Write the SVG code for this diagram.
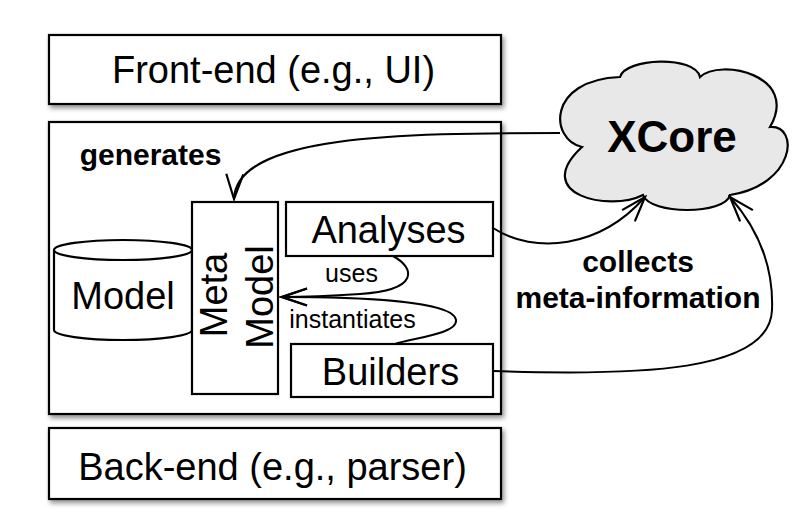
<svg xmlns="http://www.w3.org/2000/svg" width="798" height="512" viewBox="0 0 798 512">
<defs>
<filter id="sh" x="-5%" y="-10%" width="115%" height="130%">
<feDropShadow dx="2" dy="3" stdDeviation="2.5" flood-color="#000" flood-opacity="0.45"/>
</filter>
<marker id="v" markerUnits="userSpaceOnUse" markerWidth="30" markerHeight="22" viewBox="-27 -11 30 22" refX="0" refY="0" orient="auto">
<path d="M-25,-8.5 L0,0 L-25,8.5" fill="none" stroke="#000" stroke-width="2.2"/>
</marker>
</defs>
<style>
.box{fill:#fff;stroke:#000;stroke-width:2.2}
.big{font-family:"Liberation Sans",Arial,sans-serif;font-size:38px;fill:#000;text-anchor:middle}
.lbl{font-family:"Liberation Sans",Arial,sans-serif;font-size:25px;fill:#000;text-anchor:middle}
.bold{font-family:"Liberation Sans",Arial,sans-serif;font-weight:bold;font-size:30px;fill:#000;text-anchor:middle}
.con{fill:none;stroke:#000;stroke-width:2}
</style>
<rect width="798" height="512" fill="#fff"/>

<g id="frontend">
<rect class="box" x="49" y="35" width="452" height="69" filter="url(#sh)"/>
<text class="big" x="273.5" y="83">Front-end (e.g., UI)</text>
</g>

<g id="core">
<rect class="box" x="49" y="122" width="452" height="292" filter="url(#sh)"/>
</g>

<g id="backend">
<rect class="box" x="49" y="428" width="452" height="71" filter="url(#sh)"/>
<text class="big" x="272.5" y="480">Back-end (e.g., parser)</text>
</g>

<g id="model">
<path d="M54,250 L54,330 A69,10 0 0 0 192,330 L192,250" fill="#fff" stroke="#000" stroke-width="2.2"/>
<ellipse cx="123" cy="250" rx="69" ry="10" fill="#fff" stroke="#000" stroke-width="2.2"/>
<text class="big" x="123" y="309">Model</text>
</g>

<g id="metamodel">
<rect class="box" x="192" y="202" width="86" height="192"/>
<text class="big" transform="translate(227,295) rotate(-90)">Meta</text>
<text class="big" transform="translate(273,297) rotate(-90)">Model</text>
</g>

<g id="analyses">
<rect class="box" x="286" y="202" width="207" height="54"/>
<text class="big" x="388.5" y="243">Analyses</text>
</g>

<g id="builders">
<rect class="box" x="291" y="344" width="202" height="53"/>
<text class="big" x="390.5" y="385">Builders</text>
</g>

<g id="xcore">
<path d="M582,147 C550,140 546,80 620,77 C625,58 695,55 700,77 C720,58 800,75 770,127 C800,125 795,185 730,195 C725,215 650,215 643,195 C610,212 530,195 582,147 Z" fill="#e8e8e8" stroke="#000" stroke-width="2.2"/>
<text x="672" y="152" font-family="Liberation Sans,Arial,sans-serif" font-weight="bold" font-size="44" text-anchor="middle">XCore</text>
</g>

<g id="connectors">
<path class="con" d="M560,133 C400,133 236,135 234,199" marker-end="url(#v)"/>
<path class="con" d="M393,256 C415,268 420,290 360,294 C330,296 300,297 282,297" marker-end="url(#v)"/>
<path class="con" d="M395,344 C412,338 458,334 456,320 C454,300 350,297 282,297" marker-end="url(#v)"/>
<path class="con" d="M493,228 C535,255 600,248 645,197" marker-end="url(#v)"/>
<path class="con" d="M493,371 C640,376 770,372 772,310 C774,260 752,222 730,197" marker-end="url(#v)"/>
<text class="bold" x="150.5" y="165">generates</text>
<text class="lbl" x="351.5" y="282">uses</text>
<text class="lbl" x="352.5" y="328">instantiates</text>
<text class="bold" x="638" y="272">collects</text>
<text class="bold" x="638" y="308">meta-information</text>
</g>
</svg>
